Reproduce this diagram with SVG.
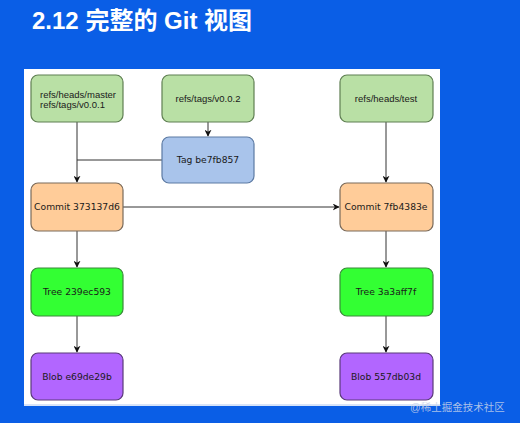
<svg xmlns="http://www.w3.org/2000/svg" width="520" height="423" viewBox="0 0 520 423">
<style>
.node{stroke-width:1.2}
.ref{fill:#b9e0a5;stroke:#5f7f52}
.tag{fill:#a9c4eb;stroke:#5c7aa3}
.commit{fill:#ffcc99;stroke:#7a6a5a}
.tree{fill:#33ff33;stroke:#3a8a3a}
.blob{fill:#b266ff;stroke:#5a3a7a}
.t1{font-family:"Liberation Sans",Arial,sans-serif;font-size:9.5px;fill:#1a1a1a;text-anchor:middle}
.left{text-anchor:start}
.t2{font-family:"DejaVu Sans",Verdana,sans-serif;font-size:9.2px;fill:#1a1a1a;text-anchor:middle}
.edge{fill:none;stroke:#333;stroke-width:1}
</style>
<defs>
<marker id="arr" viewBox="0 0 10 10" refX="9" refY="5" markerWidth="7" markerHeight="7" markerUnits="userSpaceOnUse" orient="auto">
<path d="M0,0 L10,5 L0,10 L3,5 z" fill="#111"/>
</marker>
</defs>
<rect x="0" y="0" width="520" height="423" fill="#0a5ee6"/>
<text x="32" y="29" font-family="'Liberation Sans','Noto Sans CJK SC',sans-serif" font-size="24" font-weight="bold" fill="#ffffff">2.12 完整的 Git 视图</text>
<rect x="24" y="69" width="416" height="337" fill="#ffffff"/>
<rect x="24" y="404" width="416" height="2" fill="#d8e4f8"/>
<g id="connectors">
<path class="edge" d="M77,122 V182" marker-end="url(#arr)"/>
<path class="edge" d="M208,122 V136" marker-end="url(#arr)"/>
<path class="edge" d="M162,160 H77"/>
<path class="edge" d="M386,122 V182" marker-end="url(#arr)"/>
<path class="edge" d="M123,207 H339" marker-end="url(#arr)"/>
<path class="edge" d="M77,231 V267" marker-end="url(#arr)"/>
<path class="edge" d="M386,231 V267" marker-end="url(#arr)"/>
<path class="edge" d="M77,316 V352" marker-end="url(#arr)"/>
<path class="edge" d="M386,316 V352" marker-end="url(#arr)"/>
</g>
<g id="ref-master">
<rect class="node ref" x="31" y="75" width="92" height="47" rx="7"/>
<text class="t1 left" x="40" y="98">refs/heads/master</text>
<text class="t1 left" x="40" y="108">refs/tags/v0.0.1</text>
</g>
<g id="ref-v002">
<rect class="node ref" x="162" y="75" width="92" height="47" rx="7"/>
<text class="t1" x="208" y="102">refs/tags/v0.0.2</text>
</g>
<g id="ref-test">
<rect class="node ref" x="340" y="75" width="93" height="47" rx="7"/>
<text class="t1" x="386" y="102">refs/heads/test</text>
</g>
<g id="tag">
<rect class="node tag" x="162" y="137" width="92" height="46" rx="7"/>
<text class="t2" x="208" y="163">Tag be7fb857</text>
</g>
<g id="commit-1">
<rect class="node commit" x="31" y="183" width="92" height="48" rx="7"/>
<text class="t2" x="77" y="210">Commit 373137d6</text>
</g>
<g id="commit-2">
<rect class="node commit" x="340" y="183" width="93" height="48" rx="7"/>
<text class="t2" x="386" y="210">Commit 7fb4383e</text>
</g>
<g id="tree-1">
<rect class="node tree" x="31" y="268" width="92" height="48" rx="7"/>
<text class="t2" x="77" y="295">Tree 239ec593</text>
</g>
<g id="tree-2">
<rect class="node tree" x="340" y="268" width="93" height="48" rx="7"/>
<text class="t2" x="386" y="295">Tree 3a3aff7f</text>
</g>
<g id="blob-1">
<rect class="node blob" x="31" y="353" width="92" height="47" rx="7"/>
<text class="t2" x="77" y="380">Blob e69de29b</text>
</g>
<g id="blob-2">
<rect class="node blob" x="340" y="353" width="93" height="47" rx="7"/>
<text class="t2" x="386" y="380">Blob 557db03d</text>
</g>
<text x="410" y="411" font-family="'Liberation Sans','Noto Sans CJK SC',sans-serif" font-size="10.5" fill="#c8d4ea" fill-opacity="0.85">@稀土掘金技术社区</text>
</svg>
